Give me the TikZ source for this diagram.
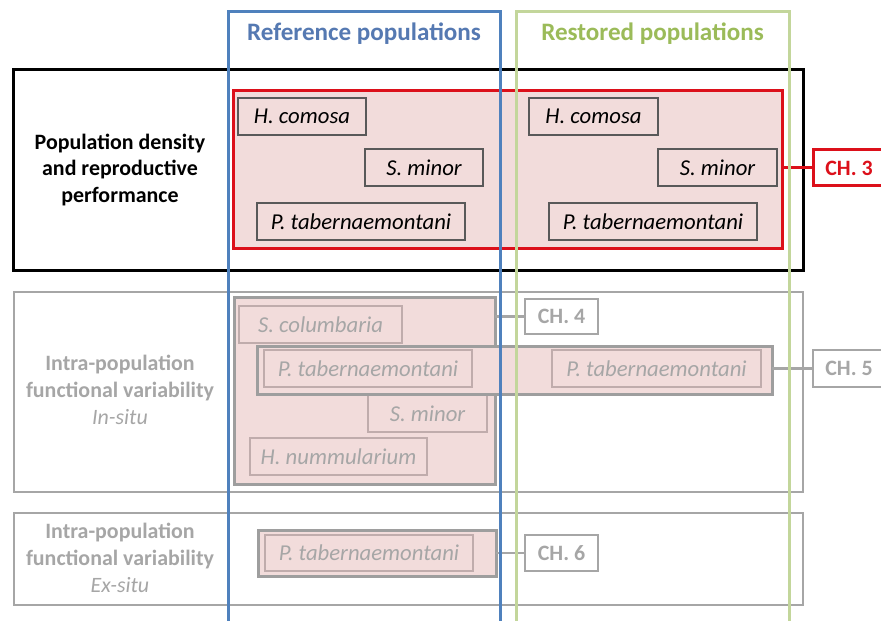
\documentclass[tikz,border=0pt]{standalone}
\usepackage{fontspec}
\setmainfont{Carlito}
\definecolor{colblue}{HTML}{4F81BD}
\definecolor{colbluetext}{HTML}{5579B2}
\definecolor{colgreen}{HTML}{C3D69B}
\definecolor{colgreentext}{HTML}{9BBB59}
\definecolor{chred}{RGB}{220,16,26}
\definecolor{pinkfill}{HTML}{F2DCDB}
\definecolor{framegray}{HTML}{A6A6A6}
\definecolor{groupgray}{HTML}{9E9E9E}
\definecolor{spgray}{RGB}{192,172,172}
\definecolor{spdark}{HTML}{595959}
\begin{document}
\begin{tikzpicture}[x=1bp,y=-1bp,
  every node/.style={inner sep=0pt, outer sep=0pt},
  species/.style={rectangle, draw=spdark, line width=1.1bp, fill=pinkfill,
    minimum height=37bp, font=\fontsize{22.8}{27}\selectfont\itshape},
  fadedspecies/.style={species, draw=spgray, text=framegray},
  section/.style={rectangle, line width=2.6bp, minimum width=789bp},
  group/.style={rectangle, draw=groupgray, line width=3bp, fill=pinkfill},
  chapter/.style={rectangle, fill=white, line width=2.6bp, minimum height=36bp,
    font=\fontsize{22}{27}\selectfont\bfseries},
  rowlabel/.style={align=center, font=\fontsize{22}{27}\selectfont\bfseries},
  link/.style={line width=2.6bp},
  column/.style={line width=3bp},
  heading/.style={font=\fontsize{25.2}{29}\selectfont\bfseries}
]
\clip (0,0) rectangle (881,621);
\useasboundingbox (0,0) rectangle (881,621);
\fill[white] (0,0) rectangle (881,621);

% --- Row 1: population density and reproductive performance
\node[section, draw=black, line width=3bp, minimum height=200bp] (row1) at (408.5,170) {};
\node[rectangle, draw=chred, line width=3bp, fill=pinkfill,
      minimum width=548bp, minimum height=157bp] (ch3grp) at (508,169.5) {};
\node[species, minimum width=128bp] (hcL) at (302,116.5) {H. comosa};
\node[species, minimum width=118bp] (smL) at (424,167.5) {S. minor};
\node[species, minimum width=208bp] (ptL) at (361,221.5) {P. tabernaemontani};
\node[species, minimum width=129bp] (hcR) at (593.5,116.5) {H. comosa};
\node[species, minimum width=119bp] (smR) at (717.5,167.5) {S. minor};
\node[species, minimum width=208bp] (ptR) at (653,221.5) {P. tabernaemontani};
\node[rowlabel] (lab1) at (120,170) {Population density\\and reproductive\\performance};
\node[chapter, draw=chred, text=chred, line width=3bp, minimum width=72bp] (ch3) at (849,168) {CH. 3};
\draw[link, chred, line width=3bp] (ch3grp.east |- ch3.west) -- (ch3.west);

% --- Row 2: intra-population functional variability in situ
\node[section, draw=framegray, minimum height=200bp] (row2) at (408.5,392) {};
\node[group, minimum width=261bp, minimum height=186bp] (ch4grp) at (364.5,391) {};
\node[fadedspecies, minimum width=163bp] (scol) at (320.5,324.5) {S. columbaria};
\node[fadedspecies, minimum width=119bp] (smin2) at (427.5,413.5) {S. minor};
\node[fadedspecies, minimum width=177bp] (hnum) at (338.5,456.5) {H. nummularium};
\node[group, minimum width=515bp, minimum height=48bp] (ch5grp) at (514.5,370) {};
\node[fadedspecies, minimum width=208bp] (pt5L) at (368,368.5) {P. tabernaemontani};
\node[fadedspecies, minimum width=209bp] (pt5R) at (656.5,368.5) {P. tabernaemontani};
\node[rowlabel, text=framegray] (lab2) at (120,390) {Intra-population\\functional variability\\\textmd{\textit{In-situ}}};
\node[chapter, draw=framegray, text=framegray, minimum width=73bp, minimum height=35bp] (ch4) at (561.5,316.5) {CH. 4};
\node[chapter, draw=framegray, text=framegray, minimum width=72bp, minimum height=37bp] (ch5) at (849,368.5) {CH. 5};
\draw[link, framegray] (ch4grp.east |- ch4.west) -- (ch4.west);
\draw[link, framegray] (ch5grp.east |- ch5.west) -- (ch5.west);

% --- Row 3: intra-population functional variability ex situ
\node[section, draw=framegray, minimum height=92bp] (row3) at (408.5,559) {};
\node[group, minimum width=238bp, minimum height=46bp] (ch6grp) at (377,553) {};
\node[fadedspecies, minimum width=208bp, minimum height=36bp] (pt6) at (369,553) {P. tabernaemontani};
\node[rowlabel, text=framegray] (lab3) at (120,558) {Intra-population\\functional variability\\\textmd{\textit{Ex-situ}}};
\node[chapter, draw=framegray, text=framegray, minimum width=73bp] (ch6) at (561.5,553) {CH. 6};
\draw[link, framegray] (ch6grp.east |- ch6.west) -- (ch6.west);

% --- Population columns, drawn over the rows
\draw[column, colblue] (228,640) -- (228,12) -- (500,12) -- (500,640);
\draw[column, colgreen] (516,640) -- (516,12) -- (789,12) -- (789,640);
\node[heading, text=colbluetext] (refhead) at (364,34) {Reference populations};
\node[heading, text=colgreentext] (resthead) at (652.5,34) {Restored populations};
\end{tikzpicture}
\end{document}
